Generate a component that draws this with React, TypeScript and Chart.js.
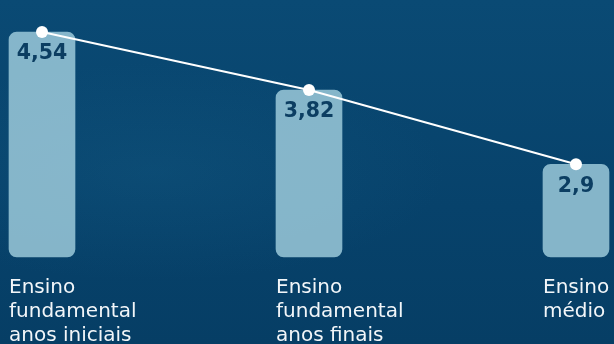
import React, { useEffect, useRef } from "react";
import { Chart, registerables } from "chart.js";

Chart.register(...registerables);

const categories: string[][] = [
  ["Ensino", "fundamental", "anos iniciais"],
  ["Ensino", "fundamental", "anos finais"],
  ["Ensino", "médio"],
];
const values: number[] = [4.54, 3.82, 2.9];
const valueLabels: string[] = ["4,54", "3,82", "2,9"];
const yMin = 1.75;
const yMax = 4.8;

const valueLabelPlugin = {
  id: "valueLabels",
  afterDatasetsDraw(chart: any) {
    const meta = chart.getDatasetMeta(1);
    const ctx = chart.ctx;
    ctx.save();
    ctx.font = "bold 20.5px 'DejaVu Sans'";
    ctx.fillStyle = "#0c3e62";
    ctx.textAlign = "center";
    ctx.textBaseline = "middle";
    meta.data.forEach((bar: any, i: number) => {
      ctx.fillText(valueLabels[i], bar.x, bar.y + 22);
    });
    ctx.restore();
  },
};

export default function App() {
  const ref = useRef<HTMLCanvasElement | null>(null);
  useEffect(() => {
    if (!ref.current) return;
    const chart = new Chart(ref.current, {
      type: "bar",
      data: {
        labels: categories,
        datasets: [
          {
            type: "line",
            data: values,
            borderColor: "#ffffff",
            borderWidth: 2,
            pointRadius: 6,
            pointBackgroundColor: "#ffffff",
            pointBorderColor: "#ffffff",
            pointBorderWidth: 0,
            tension: 0,
            clip: false,
            order: 0,
          } as any,
          {
            type: "bar",
            data: values,
            base: yMin,
            backgroundColor: "rgba(165,210,225,0.8)",
            borderRadius: 8,
            borderSkipped: false,
            barThickness: 66,
            clip: false,
            order: 1,
          } as any,
        ],
      },
      options: {
        responsive: false,
        animation: false,
        layout: { padding: { left: 42, right: 38, top: 11, bottom: 0 } },
        plugins: {
          legend: { display: false },
          tooltip: { enabled: false },
        },
        scales: {
          x: {
            offset: false,
            grid: { display: false, drawTicks: false },
            border: { display: false },
            ticks: {
              autoSkip: false,
              maxRotation: 0,
              minRotation: 0,
              align: "start",
              labelOffset: -33,
              padding: 19,
              color: "#f2f6f9",
              font: { family: "'DejaVu Sans'", size: 20, lineHeight: 1.2 },
            },
            afterFit(scale: any) {
              scale.height = 87;
              scale.paddingLeft = 0;
              scale.paddingRight = 0;
            },
          },
          y: {
            display: false,
            min: yMin,
            max: yMax,
          },
        },
      },
      plugins: [valueLabelPlugin],
    });
    return () => chart.destroy();
  }, []);

  return (
    <div
      style={{
        position: "absolute",
        left: 0,
        top: 0,
        width: 614,
        height: 344,
        overflow: "hidden",
        background:
          "radial-gradient(ellipse at 25% 50%, rgba(25,100,140,0.25) 0%, rgba(25,100,140,0) 45%), linear-gradient(180deg, #0a4a74 0%, #07426b 60%, #063e65 100%)",
      }}
    >
      <canvas ref={ref} width={614} height={344} style={{ display: "block" }} />
    </div>
  );
}
